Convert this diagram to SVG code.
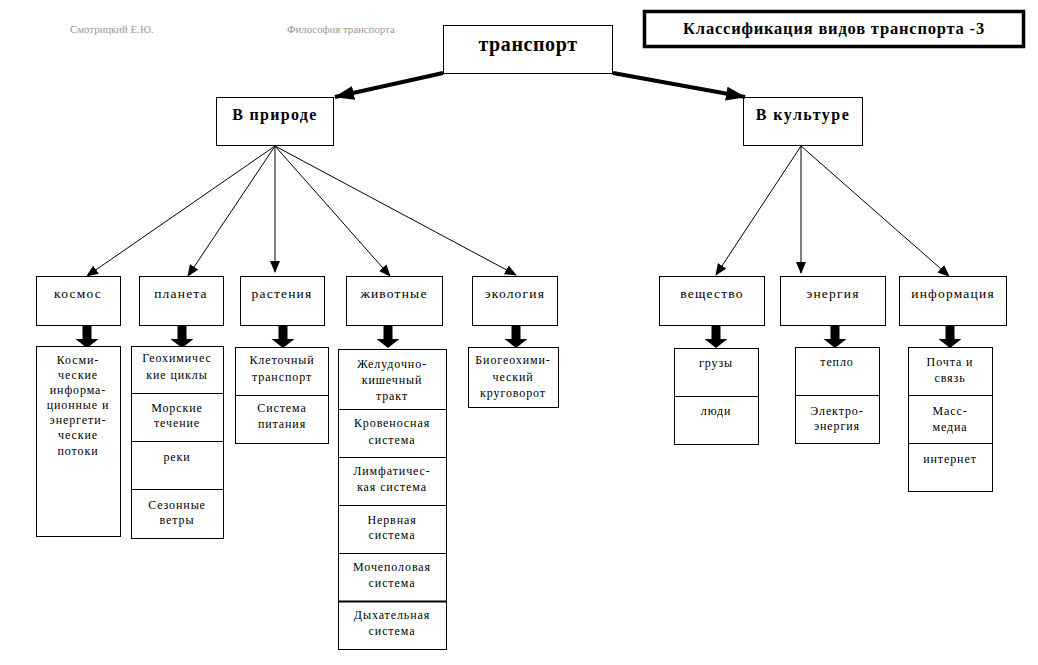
<svg xmlns="http://www.w3.org/2000/svg" width="1038" height="665" viewBox="0 0 1038 665">
<style>
.box{fill:#fff;stroke:#000;stroke-width:1}
.hd{font-family:"Liberation Serif","Times New Roman",serif;font-weight:bold;text-anchor:middle;fill:#000}
.lf{font-family:"Liberation Serif","Times New Roman",serif;font-size:13.5px;letter-spacing:1.2px;text-anchor:middle;fill:#000}
.st{font-family:"Liberation Serif","Times New Roman",serif;font-size:12px;letter-spacing:0.9px;text-anchor:middle;fill:#000}
.gr{font-family:"Liberation Serif","Times New Roman",serif;font-size:10.8px;fill:#999}
.thin{stroke:#000;stroke-width:1;fill:none;marker-end:url(#ah)}
.thick{stroke:#000;stroke-width:4;fill:none;marker-end:url(#ahb)}
</style>
<defs>
<marker id="ah" markerUnits="userSpaceOnUse" markerWidth="12" markerHeight="10" refX="11" refY="5" orient="auto"><path d="M0,0 L12,5 L0,10 z" fill="#000"/></marker>
<marker id="ahb" markerUnits="userSpaceOnUse" markerWidth="20" markerHeight="14" refX="19" refY="7" orient="auto"><path d="M0,0 L20,7 L0,14 z" fill="#000"/></marker>
<path id="blk" d="M-4.5,0 h9 v14 h7 l-11.5,9 l-11.5,-9 h7 z" fill="#000"/>
</defs>
<rect width="1038" height="665" fill="#fff"/>

<g id="header">
<text class="gr" x="70" y="33">Смотрицкий Е.Ю.</text>
<text class="gr" x="287" y="33">Философия транспорта</text>
</g>

<g id="title">
<rect x="644.5" y="11.5" width="379" height="35" fill="#fff" stroke="#000" stroke-width="3.5"/>
<text class="hd" x="834" y="34" font-size="16.5" letter-spacing="0.8">Классификация видов транспорта -3</text>
</g>

<g id="transport">
<rect class="box" x="443.5" y="25.5" width="169" height="48"/>
<text class="hd" x="528" y="51" font-size="20" letter-spacing="0.6">транспорт</text>
</g>
<g id="nature">
<rect class="box" x="216.5" y="97.5" width="117" height="48"/>
<text class="hd" x="275" y="120" font-size="16" letter-spacing="1.3">В природе</text>
</g>
<g id="culture">
<rect class="box" x="743.5" y="97.5" width="119" height="48"/>
<text class="hd" x="803" y="120" font-size="16" letter-spacing="1.5">В культуре</text>
</g>

<g id="connectors">
<line class="thick" x1="443" y1="73" x2="335" y2="97"/>
<line class="thick" x1="613" y1="73" x2="745" y2="97"/>
<line class="thin" x1="275" y1="146" x2="87" y2="276"/>
<line class="thin" x1="275" y1="146" x2="188" y2="276"/>
<line class="thin" x1="275" y1="146" x2="275" y2="272"/>
<line class="thin" x1="275" y1="146" x2="390" y2="276"/>
<line class="thin" x1="275" y1="146" x2="516" y2="275"/>
<line class="thin" x1="801" y1="146" x2="716" y2="275"/>
<line class="thin" x1="801" y1="146" x2="801" y2="273"/>
<line class="thin" x1="801" y1="146" x2="949" y2="276"/>
<use href="#blk" x="87" y="325"/>
<use href="#blk" x="182" y="325"/>
<use href="#blk" x="283" y="325"/>
<use href="#blk" x="388" y="325"/>
<use href="#blk" x="516" y="325"/>
<use href="#blk" x="716" y="325"/>
<use href="#blk" x="835" y="325"/>
<use href="#blk" x="950" y="325"/>
</g>

<g id="kosmos">
<rect class="box" x="36.5" y="276.5" width="84" height="49"/>
<text class="lf" x="78" y="298">космос</text>
</g>
<g id="planeta">
<rect class="box" x="139.5" y="276.5" width="84" height="49"/>
<text class="lf" x="181" y="298">планета</text>
</g>
<g id="rasteniya">
<rect class="box" x="240.5" y="276.5" width="84" height="49"/>
<text class="lf" x="282" y="298">растения</text>
</g>
<g id="zhivotnye">
<rect class="box" x="346.5" y="276.5" width="96" height="49"/>
<text class="lf" x="394" y="298">животные</text>
</g>
<g id="ekologiya">
<rect class="box" x="472.5" y="276.5" width="85" height="49"/>
<text class="lf" x="515" y="298">экология</text>
</g>
<g id="veshchestvo">
<rect class="box" x="659.5" y="276.5" width="105" height="49"/>
<text class="lf" x="712" y="298">вещество</text>
</g>
<g id="energiya">
<rect class="box" x="780.5" y="276.5" width="105" height="49"/>
<text class="lf" x="833" y="298">энергия</text>
</g>
<g id="informaciya">
<rect class="box" x="899.5" y="276.5" width="107" height="49"/>
<text class="lf" x="953" y="298">информация</text>
</g>

<g id="kosmos-list">
<rect class="box" x="36.5" y="346.5" width="84" height="190"/>
<text class="st" x="78" y="364">Косми-</text>
<text class="st" x="78" y="379">ческие</text>
<text class="st" x="78" y="394">информа-</text>
<text class="st" x="78" y="409">ционные и</text>
<text class="st" x="78" y="424">энергети-</text>
<text class="st" x="78" y="439">ческие</text>
<text class="st" x="78" y="455">потоки</text>
</g>

<g id="planeta-list">
<rect class="box" x="131.5" y="346.5" width="92" height="192"/>
<line x1="131" y1="393.5" x2="223" y2="393.5" stroke="#000"/>
<line x1="131" y1="441.5" x2="223" y2="441.5" stroke="#000"/>
<line x1="131" y1="489.5" x2="223" y2="489.5" stroke="#000"/>
<text class="st" x="177" y="362">Геохимичес</text>
<text class="st" x="177" y="379">кие циклы</text>
<text class="st" x="177" y="412">Морские</text>
<text class="st" x="177" y="427">течение</text>
<text class="st" x="177" y="461">реки</text>
<text class="st" x="177" y="509">Сезонные</text>
<text class="st" x="177" y="524">ветры</text>
</g>

<g id="rasteniya-list">
<rect class="box" x="235.5" y="347.5" width="93" height="96"/>
<line x1="235" y1="395.5" x2="328" y2="395.5" stroke="#000"/>
<text class="st" x="282" y="364">Клеточный</text>
<text class="st" x="282" y="381">транспорт</text>
<text class="st" x="282" y="412">Система</text>
<text class="st" x="282" y="428">питания</text>
</g>

<g id="zhivotnye-list">
<rect class="box" x="338.5" y="349.5" width="108" height="300"/>
<line x1="338" y1="409.5" x2="446" y2="409.5" stroke="#000"/>
<line x1="338" y1="457.5" x2="446" y2="457.5" stroke="#000"/>
<line x1="338" y1="505.5" x2="446" y2="505.5" stroke="#000"/>
<line x1="338" y1="553.5" x2="446" y2="553.5" stroke="#000"/>
<line x1="338" y1="601.5" x2="446" y2="601.5" stroke="#000" stroke-width="2"/>
<text class="st" x="392" y="368">Желудочно-</text>
<text class="st" x="392" y="384">кишечный</text>
<text class="st" x="392" y="400">тракт</text>
<text class="st" x="392" y="427">Кровеносная</text>
<text class="st" x="392" y="444">система</text>
<text class="st" x="392" y="475">Лимфатичес-</text>
<text class="st" x="392" y="491">кая система</text>
<text class="st" x="392" y="524">Нервная</text>
<text class="st" x="392" y="539">система</text>
<text class="st" x="392" y="571">Мочеполовая</text>
<text class="st" x="392" y="587">система</text>
<text class="st" x="392" y="619">Дыхательная</text>
<text class="st" x="392" y="635">система</text>
</g>

<g id="ekologiya-list">
<rect class="box" x="468.5" y="347.5" width="90" height="60"/>
<text class="st" x="513" y="364">Биогеохими-</text>
<text class="st" x="513" y="381">ческий</text>
<text class="st" x="513" y="397">круговорот</text>
</g>

<g id="veshchestvo-list">
<rect class="box" x="674.5" y="348.5" width="84" height="96"/>
<line x1="674" y1="396.5" x2="758" y2="396.5" stroke="#000"/>
<text class="st" x="716" y="367">грузы</text>
<text class="st" x="716" y="415">люди</text>
</g>

<g id="energiya-list">
<rect class="box" x="795.5" y="347.5" width="84" height="96"/>
<line x1="795" y1="395.5" x2="879" y2="395.5" stroke="#000"/>
<text class="st" x="837" y="366">тепло</text>
<text class="st" x="837" y="415">Электро-</text>
<text class="st" x="837" y="430">энергия</text>
</g>

<g id="informaciya-list">
<rect class="box" x="908.5" y="347.5" width="84" height="144"/>
<line x1="908" y1="395.5" x2="992" y2="395.5" stroke="#000"/>
<line x1="908" y1="443.5" x2="992" y2="443.5" stroke="#000"/>
<text class="st" x="950" y="366">Почта и</text>
<text class="st" x="950" y="382">связь</text>
<text class="st" x="950" y="415">Масс-</text>
<text class="st" x="950" y="431">медиа</text>
<text class="st" x="950" y="463">интернет</text>
</g>
</svg>
